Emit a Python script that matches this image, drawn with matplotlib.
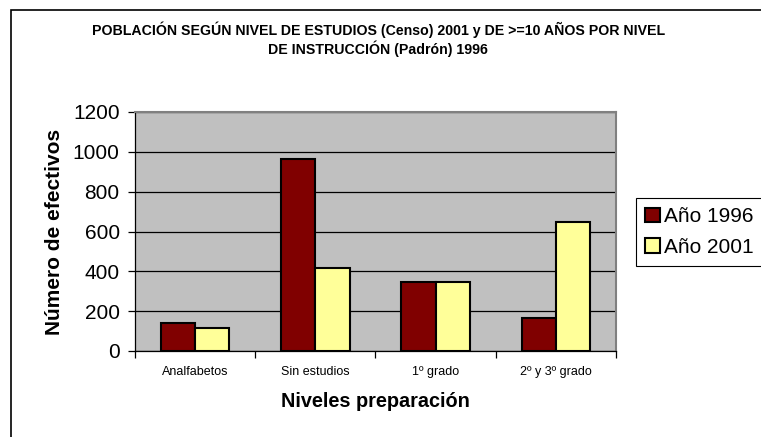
import matplotlib.pyplot as plt
import numpy as np
from matplotlib.patches import Rectangle

plt.rcParams['font.family'] = ['Liberation Sans', 'DejaVu Sans']

# data
categorias = ["Analfabetos", "Sin estudios", "1º grado", "2º y 3º grado"]
anio_1996 = [139, 962, 348, 167]
anio_2001 = [117, 415, 348, 646]
series = ["Año 1996", "Año 2001"]
colores = ["#800000", "#FFFF99"]
yticks = [0, 200, 400, 600, 800, 1000, 1200]

W, H = 761, 437
fig = plt.figure(figsize=(W / 100, H / 100), dpi=100)
ax1 = fig.add_axes([135 / W, 1 - 351 / H, (616 - 135) / W, (351 - 112) / H])
ax1.set_facecolor("#C0C0C0")

x = np.arange(len(categorias))
w = 1 / 3.5
b1 = ax1.bar(x - w / 2, anio_1996, w, color=colores[0], edgecolor="black", linewidth=1.5, label=series[0], zorder=3)
b2 = ax1.bar(x + w / 2, anio_2001, w, color=colores[1], edgecolor="black", linewidth=1.5, label=series[1], zorder=3)

ax1.set_xlim(-0.5, len(categorias) - 0.5)
ax1.set_ylim(0, 1200)
ax1.set_yticks(yticks)
ax1.set_yticklabels([str(v) for v in yticks], fontsize=15)
ax1.yaxis.grid(True, color="black", linewidth=0.9, zorder=1)
ax1.set_axisbelow(True)

# category ticks at the boundaries, labels centered
ax1.set_xticks(np.arange(len(categorias) + 1) - 0.5)
ax1.set_xticklabels([])
ax1.set_xticks(x, minor=True)
ax1.set_xticklabels(categorias, minor=True, fontsize=9)
ax1.tick_params(axis="x", which="minor", length=0, pad=11)
ax1.tick_params(axis="x", which="major", length=5, direction="out", width=0.9)
ax1.tick_params(axis="y", length=5, direction="out", width=0.9, pad=6)

for s in ["top", "right"]:
    ax1.spines[s].set_color("#808080")
    ax1.spines[s].set_linewidth(1.5)
for s in ["left", "bottom"]:
    ax1.spines[s].set_color("black")
    ax1.spines[s].set_linewidth(0.9)

ax1.set_xlabel("Niveles preparación", fontsize=14.3, fontweight="bold", labelpad=10)
ax1.set_ylabel("Número de efectivos", fontsize=15, fontweight="bold")
ax1.yaxis.set_label_coords(-0.148, 0.5)

fig.text(0.497, 1 - 30 / H, "POBLACIÓN SEGÚN NIVEL DE ESTUDIOS (Censo) 2001 y DE >=10 AÑOS POR NIVEL",
         ha="center", va="center", fontsize=10.2, fontweight="bold")
fig.text(0.497, 1 - 49 / H, "DE INSTRUCCIÓN (Padrón) 1996",
         ha="center", va="center", fontsize=10.2, fontweight="bold")

leg = fig.legend(handles=[b1, b2], labels=series, loc="upper left",
                 bbox_to_anchor=(636 / W, 1 - 198 / H), fontsize=15,
                 handlelength=0.7, handleheight=0.7, handletextpad=0.2,
                 borderpad=0.45, labelspacing=0.55, borderaxespad=0,
                 fancybox=False, framealpha=1, edgecolor="black")
leg.get_frame().set_linewidth(0.8)

# outer chart frame, runs off the right and bottom edges
fig.patches.append(Rectangle((11 / W, -0.2), 1.5, 1 - 10 / H + 0.2, transform=fig.transFigure,
                             fill=False, edgecolor="black", linewidth=1.2))

fig.savefig("out.png", dpi=100)
